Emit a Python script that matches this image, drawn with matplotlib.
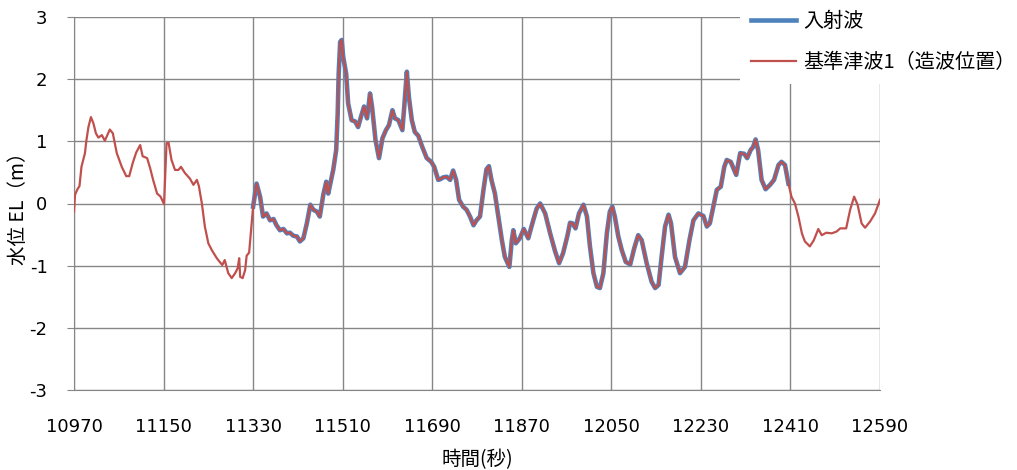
import matplotlib
matplotlib.use("Agg")
import matplotlib.pyplot as plt
import numpy as np

plt.rcParams['font.family'] = ['Noto Sans CJK JP', 'DejaVu Sans']
plt.rcParams['axes.unicode_minus'] = False

# 時間 (s) と水位 EL (m)
time_s = [10970, 10972, 10977, 10981, 10985, 10992, 10995, 10999, 11004, 11009,
          11014, 11019, 11026, 11032, 11037, 11042, 11048, 11056, 11066, 11075,
          11081, 11088, 11095, 11103, 11108, 11117, 11123, 11129, 11137, 11144,
          11151, 11156, 11160, 11166, 11173, 11180, 11185, 11193, 11203, 11210,
          11217, 11221, 11227, 11233, 11240, 11247, 11257, 11263, 11268, 11273,
          11280, 11287, 11294, 11299, 11302, 11304, 11309, 11314, 11317, 11322,
          11326, 11330, 11337, 11344, 11350, 11357, 11364, 11371, 11377, 11384,
          11391, 11398, 11404, 11411, 11418, 11424, 11431, 11438, 11445, 11451,
          11458, 11464, 11471, 11477, 11481, 11486, 11491, 11497, 11500, 11502,
          11505, 11508, 11511, 11517, 11521, 11528, 11535, 11541, 11547, 11553,
          11559, 11565, 11569, 11576, 11583, 11590, 11597, 11603, 11610, 11615,
          11622, 11630, 11634, 11639, 11643, 11649, 11655, 11662, 11670, 11679,
          11688, 11694, 11702, 11706, 11712, 11719, 11726, 11732, 11738, 11744,
          11752, 11759, 11766, 11773, 11779, 11786, 11793, 11799, 11804, 11809,
          11816, 11823, 11830, 11836, 11845, 11850, 11853, 11858, 11866, 11874,
          11883, 11893, 11900, 11907, 11917, 11927, 11937, 11945, 11953, 11962,
          11967, 11972, 11978, 11985, 11994, 12001, 12007, 12014, 12021, 12027,
          12034, 12041, 12047, 12052, 12057, 12064, 12071, 12079, 12088, 12096,
          12104, 12111, 12121, 12131, 12138, 12145, 12151, 12158, 12165, 12170,
          12178, 12188, 12198, 12207, 12215, 12225, 12235, 12242, 12248, 12255,
          12262, 12270, 12277, 12282, 12290, 12301, 12309, 12317, 12323, 12330,
          12335, 12340, 12345, 12352, 12360, 12369, 12377, 12386, 12392, 12399,
          12406, 12412, 12419, 12426, 12433, 12439, 12449, 12457, 12466, 12473,
          12482, 12493, 12503, 12510, 12522, 12530, 12538, 12545, 12553, 12560,
          12570, 12580, 12590]
level_m = [-0.13, 0.14, 0.23, 0.28, 0.59, 0.81, 1.02, 1.23, 1.39, 1.29,
           1.13, 1.06, 1.10, 1.01, 1.10, 1.19, 1.13, 0.81, 0.59, 0.44,
           0.44, 0.65, 0.82, 0.94, 0.76, 0.73, 0.57, 0.38, 0.16, 0.11,
           -0.01, 0.97, 0.98, 0.70, 0.54, 0.54, 0.59, 0.49, 0.40, 0.30,
           0.38, 0.28, 0.00, -0.37, -0.64, -0.75, -0.88, -0.94, -0.99, -0.91,
           -1.12, -1.20, -1.12, -1.04, -0.88, -1.18, -1.20, -1.07, -0.84, -0.79,
           -0.43, -0.05, 0.32, 0.11, -0.21, -0.16, -0.27, -0.25, -0.35, -0.43,
           -0.41, -0.48, -0.47, -0.52, -0.53, -0.61, -0.56, -0.32, -0.02, -0.10,
           -0.13, -0.21, 0.14, 0.35, 0.16, 0.35, 0.54, 0.86, 1.45, 2.09,
           2.60, 2.63, 2.36, 2.09, 1.61, 1.34, 1.32, 1.23, 1.40, 1.56,
           1.37, 1.77, 1.56, 1.02, 0.73, 1.05, 1.18, 1.26, 1.50, 1.37,
           1.34, 1.18, 1.58, 2.12, 1.72, 1.34, 1.15, 1.09, 0.91, 0.73,
           0.67, 0.59, 0.38, 0.39, 0.42, 0.43, 0.38, 0.53, 0.38, 0.06,
           -0.05, -0.10, -0.21, -0.35, -0.27, -0.21, 0.22, 0.55, 0.60, 0.38,
           0.16, -0.21, -0.59, -0.86, -1.02, -0.59, -0.43, -0.64, -0.56, -0.41,
           -0.56, -0.27, -0.08, 0.00, -0.16, -0.48, -0.77, -0.96, -0.80, -0.51,
           -0.31, -0.32, -0.40, -0.16, -0.02, -0.21, -0.69, -1.12, -1.34, -1.36,
           -1.12, -0.48, -0.13, -0.05, -0.21, -0.53, -0.75, -0.94, -0.98, -0.72,
           -0.51, -0.59, -0.96, -1.26, -1.36, -1.31, -0.86, -0.37, -0.18, -0.32,
           -0.86, -1.12, -1.02, -0.59, -0.27, -0.16, -0.20, -0.37, -0.32, -0.05,
           0.22, 0.27, 0.59, 0.70, 0.67, 0.46, 0.81, 0.80, 0.73, 0.86,
           0.91, 1.03, 0.86, 0.38, 0.23, 0.30, 0.38, 0.62, 0.67, 0.62,
           0.32, 0.11, 0.00, -0.21, -0.48, -0.61, -0.69, -0.59, -0.41, -0.51,
           -0.47, -0.48, -0.45, -0.40, -0.40, -0.10, 0.11, -0.02, -0.32, -0.39,
           -0.29, -0.16, 0.06]

# 入射波の区間
incident_start = 11330
incident_end = 12410

x_ticks = np.arange(10970, 12591, 180)
y_ticks = np.arange(-3, 4, 1)

t = np.array(time_s)
el = np.array(level_m)
inc = (t >= incident_start) & (t <= incident_end)

fig = plt.figure(figsize=(10.17, 4.70), dpi=100)
ax = fig.add_axes([74/1017, 1 - 390/470, 806/1017, 373/470])

ax.plot(t[inc], el[inc], color='#4F81BD', lw=3.3, label='入射波', zorder=2)
ax.plot(t, el, color='#C0504D', lw=1.6, label='基準津波1（造波位置）', zorder=3)

ax.set_xlim(10970, 12590)
ax.set_ylim(-3, 3)
ax.set_xticks(x_ticks)
ax.set_yticks(y_ticks)
ax.grid(True, color='#868686', lw=1.0)
ax.set_axisbelow(True)
for s in ['top', 'right']:
    ax.spines[s].set_visible(False)
for s in ['left', 'bottom']:
    ax.spines[s].set_color('#868686')
ax.tick_params(axis='x', length=0, pad=20, labelsize=13)
ax.tick_params(axis='y', length=5, color='#868686', pad=14, labelsize=13)
for lab in ax.get_xticklabels() + ax.get_yticklabels():
    lab.set_family('DejaVu Sans')

# 軸ラベルは中心で位置決め
ax.set_xlabel('時間(秒)', fontsize=14, va='center', ha='center')
ax.xaxis.set_label_coords(0.5, -0.188)
ax.set_ylabel('水位 EL（m）', fontsize=14, va='center', ha='center')
ax.yaxis.set_label_coords(-0.069, 0.5)

leg = ax.legend(loc='upper left', bbox_to_anchor=(740/1017, 1.0),
                bbox_transform=fig.transFigure, borderaxespad=0,
                fontsize=14.5, handlelength=2.25, handletextpad=0.35,
                labelspacing=1.0, borderpad=0.55, fancybox=False)
leg.get_frame().set_facecolor('white')
leg.get_frame().set_edgecolor('none')
leg.get_frame().set_alpha(1)

fig.savefig('out.png', dpi=100)
